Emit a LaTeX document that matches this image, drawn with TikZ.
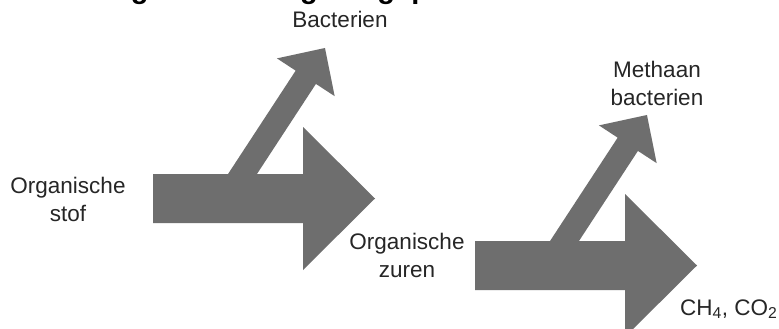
\documentclass[tikz,border=0pt]{standalone}
\usepackage{fontspec}
\setmainfont{Liberation Sans}
\begin{document}
\begin{tikzpicture}[x=1pt,y=-1pt,
  flowfill/.style={fill=black!57, draw=none},
  lbl/.style={font=\fontsize{22.5}{28}\selectfont, text=black!85, inner sep=0pt, align=center},
  titlefont/.style={font=\fontsize{29}{32}\selectfont\bfseries, inner sep=0pt},
  flow/.pic={
    % main horizontal arrow
    \fill[flowfill] (0,0) -- (150,0) -- (150,-47) -- (222,24.5) -- (150,96)
      -- (150,49) -- (0,49) -- cycle;
    % branching arrow
    \begin{scope}[shift={(89.5,0)}, rotate=56.8]
      \fill[flowfill] (-8,-12.1) -- (115.6,-12.1) -- (115.6,-34.5) -- (150.6,0)
        -- (115.6,34.5) -- (115.6,12.1) -- (-8,12.1) -- cycle;
    \end{scope}
  }]
\useasboundingbox (0,0) rectangle (779,329);
\fill[white] (0,0) rectangle (779,329);

\node[titlefont, anchor=base west] (title) at (34.5,-1) {Werking van de vergistingsprocessen};

\pic (stage1) at (153,174) {flow};
\pic (stage2) at (475,241) {flow};

\node[lbl, anchor=base] (bact) at (340,28) {Bacterien};
\node[lbl, anchor=base] (orgstof) at (68,221) {Organische\\stof};
\node[lbl, anchor=base] (meth) at (657,105) {Methaan\\bacterien};
\node[lbl, anchor=base] (orgzuren) at (407,277) {Organische\\zuren};
\node[lbl, anchor=base west] (gas) at (680,315) {CH\textsubscript{4}, CO\textsubscript{2}};
\end{tikzpicture}
\end{document}
